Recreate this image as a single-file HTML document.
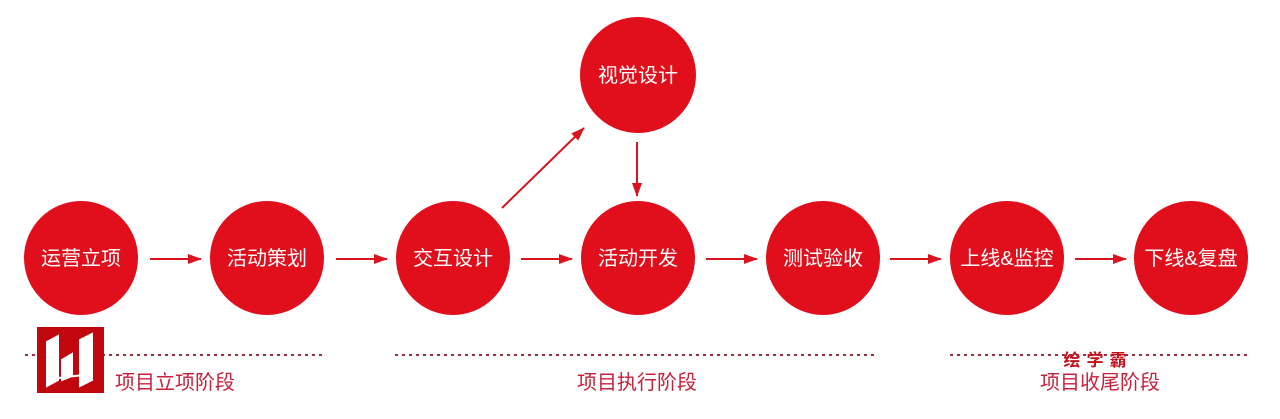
<!DOCTYPE html>
<html><head><meta charset="utf-8"><style>
body{margin:0;background:#fff;}
svg{display:block}
text{font-family:"Liberation Sans","Noto Sans CJK SC",sans-serif;}
</style></head><body>
<svg width="1280" height="419" viewBox="0 0 1280 419">
<defs><marker id="a" markerWidth="14" markerHeight="12" refX="13" refY="6" orient="auto" markerUnits="userSpaceOnUse"><path d="M0,1 L14,6 L0,11 Z" fill="#d9141e"/></marker></defs>
<g fill="#e10f1c">
<circle cx="81" cy="258" r="57"/><circle cx="267" cy="258" r="57"/><circle cx="453" cy="258" r="57"/>
<circle cx="638" cy="258" r="57"/><circle cx="823" cy="258" r="57"/><circle cx="1007" cy="258" r="57"/>
<circle cx="1191" cy="258" r="57"/><circle cx="638" cy="75" r="58"/>
</g>
<g fill="#fff" font-size="20" text-anchor="middle">
<text x="81" y="265">运营立项</text><text x="267" y="265">活动策划</text><text x="453" y="265">交互设计</text>
<text x="638" y="265">活动开发</text><text x="823" y="265">测试验收</text><text x="1007" y="265">上线&amp;监控</text>
<text x="1191" y="265">下线&amp;复盘</text><text x="638" y="82">视觉设计</text>
</g>
<g stroke="#d9141e" stroke-width="2" marker-end="url(#a)">
<line x1="150" y1="259" x2="201" y2="259"/><line x1="336" y1="259" x2="387" y2="259"/>
<line x1="521" y1="259" x2="572" y2="259"/><line x1="706" y1="259" x2="757" y2="259"/>
<line x1="890" y1="259" x2="941" y2="259"/><line x1="1075" y1="259" x2="1126" y2="259"/>
<line x1="502" y1="208" x2="584" y2="128"/><line x1="637" y1="142" x2="637" y2="196"/>
</g>
<g stroke="#9a3040" stroke-width="2" stroke-dasharray="3,4">
<line x1="25" y1="355" x2="323" y2="355"/><line x1="395" y1="355" x2="878" y2="355"/>
<line x1="950" y1="355" x2="1248" y2="355"/>
</g>
<g fill="#c7203a" font-size="20" text-anchor="middle">
<text x="175" y="389">项目立项阶段</text><text x="637" y="389">项目执行阶段</text><text x="1100" y="389">项目收尾阶段</text>
</g>
<text x="1098" y="366" fill="#c0101a" font-size="17" font-weight="bold" text-anchor="middle" letter-spacing="6">绘学霸</text>
<rect x="37" y="327" width="67" height="66" fill="#c0070e"/>
<path d="M47,342 L58,336 L58,380 L47,386 Z M62,360 L72,354 L72,376 L62,380 Z M80,340 L92,334 L92,380 L80,386 Z M58,378 L92,374" fill="#fff" stroke="#fff" stroke-width="2"/>
</svg>
</body></html>
